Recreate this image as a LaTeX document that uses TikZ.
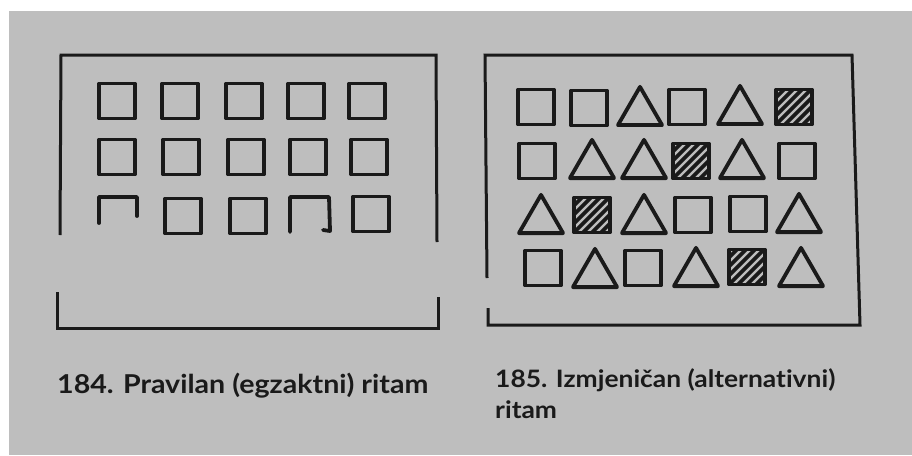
\documentclass[tikz,border=0pt]{standalone}
\usepackage{fontspec}
\setmainfont{Lato}[Ligatures=NoCommon, FakeStretch=1.1]
\usetikzlibrary{shapes.geometric}
\definecolor{pagegray}{RGB}{190,190,190}
\definecolor{ink}{RGB}{26,26,26}

\begin{document}
\begin{tikzpicture}[
    x=1pt, y=-1pt,
    frame/.style={draw=ink, line width=3pt, line join=miter},
    shp/.style={draw=ink, line width=3.8pt, line join=round, inner sep=0pt},
    sq/.style={shp, rectangle, minimum width=36, minimum height=35},
    tri/.style={shp, regular polygon, regular polygon sides=3, minimum size=51, anchor=south},
    hatchsq/.style={sq, path picture={
        \foreach \k in {-45,-36,...,45}
            \draw[ink, line width=3.8pt] ([xshift=\k pt]path picture bounding box.south west) -- ++(45pt,45pt);}},
    openbox/.style={draw=ink, line width=3.8pt, line join=round, line cap=round},
    caption/.style={anchor=base west, inner sep=0pt, text=ink, font=\fontsize{26}{31}\selectfont\bfseries},
    smallcap/.style={caption, font=\fontsize{24}{29}\selectfont\bfseries}
]

    % Page
    \fill[white] (0,0) rectangle (912,455);
    \fill[pagegray] (9,11) rectangle (912,455);

    % Left frame (184)
    \draw[frame] (60,235) -- (61,55) -- (436,55) -- (437,242);
    \draw[frame] (57,292) -- (57,328) -- (438,328) -- (438,297);

    \node[sq] (l11) at (117,101) {};
    \node[sq] (l12) at (180,101) {};
    \node[sq] (l13) at (244,101) {};
    \node[sq] (l14) at (306,101) {};
    \node[sq] (l15) at (367,101) {};

    \node[sq] (l21) at (117,157) {};
    \node[sq] (l22) at (181,157) {};
    \node[sq] (l23) at (246,157) {};
    \node[sq] (l24) at (308,157) {};
    \node[sq] (l25) at (369,157) {};

    \draw[openbox] (99,223) |- (137,197) -- (137,216);
    \node[sq] (l32) at (183,216) {};
    \node[sq] (l33) at (248,216) {};
    \draw[openbox] (290,232) |- (329,197) -- (330,231) -- (323,230);
    \node[sq] (l35) at (371,214) {};

    % Right frame (185)
    \draw[frame] (487,278) -- (485,55) -- (852,55) -- (860,325) -- (488,325) -- (488,308);

    \node[sq] (r11) at (536,107) {};
    \node[sq] (r12) at (589,108) {};
    \node[tri] (r13) at (640,127) {};
    \node[sq] (r14) at (687,107) {};
    \node[tri] (r15) at (740,126) {};
    \node[hatchsq] (r16) at (794,107) {};

    \node[sq] (r21) at (537,161) {};
    \node[tri] (r22) at (592,180) {};
    \node[tri] (r23) at (644,180) {};
    \node[hatchsq] (r24) at (691,161) {};
    \node[tri] (r25) at (742,180) {};
    \node[sq] (r26) at (797,161) {};

    \node[tri] (r31) at (541,235) {};
    \node[hatchsq] (r32) at (592,215) {};
    \node[tri] (r33) at (644,235) {};
    \node[sq] (r34) at (693,215) {};
    \node[sq] (r35) at (748,214) {};
    \node[tri] (r36) at (799,234) {};

    \node[sq] (r41) at (543,268) {};
    \node[tri] (r42) at (595,289) {};
    \node[sq] (r43) at (643,268) {};
    \node[tri] (r44) at (696,288) {};
    \node[hatchsq] (r45) at (747,267) {};
    \node[tri] (r46) at (801,288) {};

    % Captions
    \node[caption] (cap184) at (57,393) {184. Pravilan (egzaktni) ritam};
    \node[smallcap] (cap185) at (495,387) {185. Izmjeničan (alternativni)};
    \node[smallcap] (cap185b) at (495,418) {ritam};

\end{tikzpicture}
\end{document}
